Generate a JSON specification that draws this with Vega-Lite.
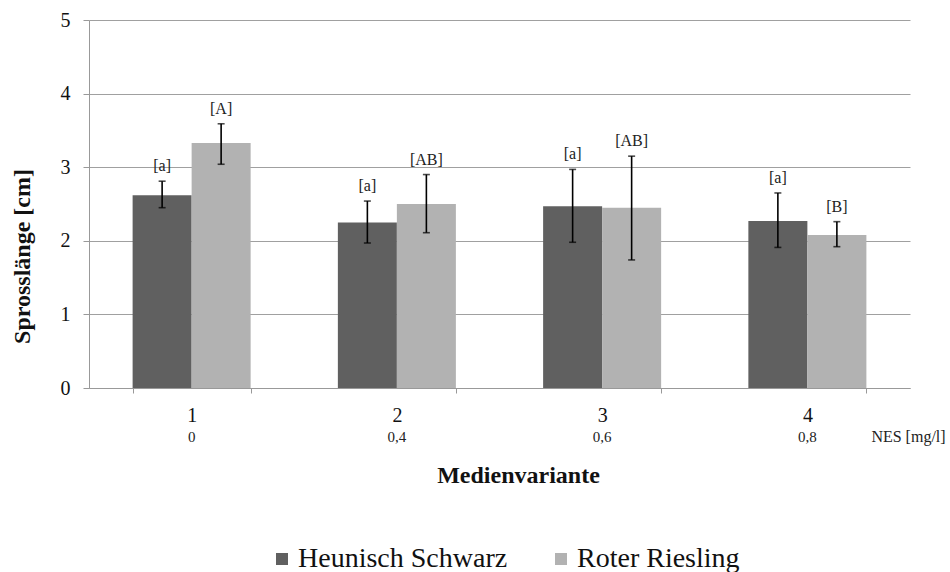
{
  "$schema": "https://vega.github.io/schema/vega-lite/v6.json",
  "width": 821,
  "height": 368,
  "autosize": {"type": "none"},
  "padding": {"left": 89, "top": 20, "right": 40, "bottom": 184},
  "background": "white",
  "config": {
    "font": "Liberation Serif",
    "view": {"stroke": null},
    "text": {"font": "Liberation Serif"},
    "legend": {"labelFont": "Liberation Serif"},
    "axis": {"labelFont": "Liberation Serif", "titleFont": "Liberation Serif", "labelColor": "#111", "titleColor": "#111"}
  },
  "datasets": {
    "werte": [
      {"Variante": "1", "Sorte": "Heunisch Schwarz", "Mittel": 2.62, "Min": 2.45, "Max": 2.81, "Gruppe": "[a]"},
      {"Variante": "1", "Sorte": "Roter Riesling", "Mittel": 3.33, "Min": 3.04, "Max": 3.59, "Gruppe": "[A]"},
      {"Variante": "2", "Sorte": "Heunisch Schwarz", "Mittel": 2.25, "Min": 1.97, "Max": 2.54, "Gruppe": "[a]"},
      {"Variante": "2", "Sorte": "Roter Riesling", "Mittel": 2.50, "Min": 2.11, "Max": 2.90, "Gruppe": "[AB]"},
      {"Variante": "3", "Sorte": "Heunisch Schwarz", "Mittel": 2.47, "Min": 1.98, "Max": 2.97, "Gruppe": "[a]"},
      {"Variante": "3", "Sorte": "Roter Riesling", "Mittel": 2.45, "Min": 1.74, "Max": 3.15, "Gruppe": "[AB]"},
      {"Variante": "4", "Sorte": "Heunisch Schwarz", "Mittel": 2.27, "Min": 1.91, "Max": 2.65, "Gruppe": "[a]"},
      {"Variante": "4", "Sorte": "Roter Riesling", "Mittel": 2.08, "Min": 1.92, "Max": 2.26, "Gruppe": "[B]"}
    ],
    "nes": [
      {"Variante": "1", "NES": "0"},
      {"Variante": "2", "NES": "0,4"},
      {"Variante": "3", "NES": "0,6"},
      {"Variante": "4", "NES": "0,8"}
    ],
    "einheit": [
      {"Variante": "4", "Text": "NES [mg/l]"}
    ]
  },
  "encoding": {
    "x": {
      "field": "Variante",
      "type": "nominal",
      "sort": ["1", "2", "3", "4"],
      "scale": {"paddingInner": 0.425, "paddingOuter": 0.2125},
      "axis": {
        "labelAngle": 0,
        "labelFontSize": 20,
        "labelPadding": 22,
        "labelBaseline": "middle",
        "tickBand": "extent",
        "tickSize": 5,
        "tickColor": "#999999",
        "domainColor": "#999999",
        "title": "Medienvariante",
        "titleFontSize": 24,
        "titleFontWeight": "bold",
        "titleX": 429,
        "titleY": 87,
        "titleBaseline": "middle",
        "titleAlign": "center"
      }
    }
  },
  "layer": [
    {
      "data": {"name": "werte"},
      "mark": {"type": "bar"},
      "encoding": {
        "xOffset": {"field": "Sorte", "type": "nominal", "scale": {"paddingInner": 0, "paddingOuter": 0}},
        "y": {
          "field": "Mittel",
          "type": "quantitative",
          "scale": {"domain": [0, 5]},
          "axis": {
            "values": [0, 1, 2, 3, 4, 5],
            "format": "d",
            "labelFontSize": 20,
            "labelPadding": 13,
            "tickSize": 6,
            "tickColor": "#999999",
            "domainColor": "#999999",
            "gridColor": "#a0a0a0",
            "gridOpacity": 1,
            "title": "Sprosslänge [cm]",
            "titleFontSize": 24,
            "titleFontWeight": "bold",
            "titleX": -67,
            "titleY": 236,
            "titleAlign": "center",
            "titleBaseline": "middle",
            "titleAngle": -90
          }
        },
        "color": {
          "field": "Sorte",
          "type": "nominal",
          "scale": {"domain": ["Heunisch Schwarz", "Roter Riesling"], "range": ["#606060", "#b2b2b2"]},
          "legend": {
            "title": null,
            "orient": "none",
            "direction": "horizontal",
            "legendX": 179,
            "legendY": 525,
            "labelFontSize": 28,
            "labelColor": "#111",
            "labelLimit": 0,
            "labelBaseline": "middle",
            "symbolType": "square",
            "symbolSize": 144,
            "symbolStrokeWidth": 0,
            "symbolOpacity": 1,
            "labelOffset": 2,
            "columnPadding": 39
          }
        }
      }
    },
    {
      "data": {"name": "werte"},
      "mark": {"type": "rule", "color": "#000000", "strokeWidth": 1.6},
      "encoding": {
        "xOffset": {"field": "Sorte", "type": "nominal"},
        "y": {"field": "Min", "type": "quantitative"},
        "y2": {"field": "Max"}
      }
    },
    {
      "data": {"name": "werte"},
      "mark": {"type": "tick", "color": "#000000", "size": 7, "thickness": 1.6, "orient": "horizontal"},
      "encoding": {
        "xOffset": {"field": "Sorte", "type": "nominal"},
        "y": {"field": "Min", "type": "quantitative"}
      }
    },
    {
      "data": {"name": "werte"},
      "mark": {"type": "tick", "color": "#000000", "size": 7, "thickness": 1.6, "orient": "horizontal"},
      "encoding": {
        "xOffset": {"field": "Sorte", "type": "nominal"},
        "y": {"field": "Max", "type": "quantitative"}
      }
    },
    {
      "data": {"name": "werte"},
      "mark": {"type": "text", "baseline": "bottom", "dy": -7, "fontSize": 16, "color": "#222222"},
      "encoding": {
        "xOffset": {"field": "Sorte", "type": "nominal"},
        "y": {"field": "Max", "type": "quantitative"},
        "text": {"field": "Gruppe"}
      }
    },
    {
      "data": {"name": "nes"},
      "mark": {"type": "text", "baseline": "middle", "dy": 49, "fontSize": 15, "color": "#222222"},
      "encoding": {
        "y": {"datum": 0, "type": "quantitative"},
        "text": {"field": "NES"}
      }
    },
    {
      "data": {"name": "einheit"},
      "mark": {"type": "text", "baseline": "middle", "align": "left", "dy": 49, "dx": 64, "fontSize": 16, "color": "#222222"},
      "encoding": {
        "y": {"datum": 0, "type": "quantitative"},
        "text": {"field": "Text"}
      }
    }
  ]
}
